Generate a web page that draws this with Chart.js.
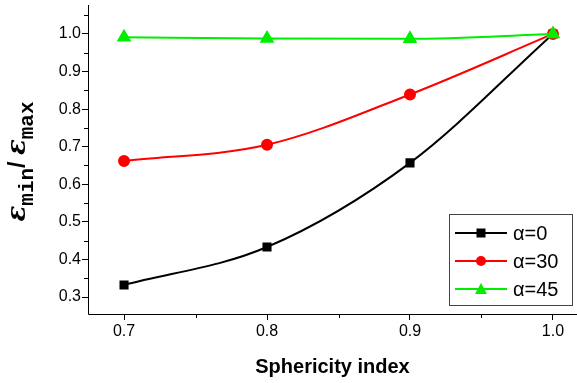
<!DOCTYPE html>
<html><head><meta charset="utf-8">
<script src="https://cdn.jsdelivr.net/npm/chart.js@4/dist/chart.umd.min.js"></script>
<style>html,body{margin:0;padding:0;background:#fff}#wrap{width:577px;height:383px}</style>
</head><body><div id="wrap"><canvas id="c"></canvas></div>
<script>
const sphericity = [0.7, 0.8, 0.9, 1.0];
const alpha0 = [0.332, 0.433, 0.657, 1.0];
const alpha30 = [0.662, 0.705, 0.839, 1.0];
const alpha45 = [0.991, 0.988, 0.987, 1.0];
const seriesLabels = ['α=0', 'α=30', 'α=45'];
const xTicks = [0.7, 0.8, 0.9, 1.0];
const yTicks = [0.3, 0.4, 0.5, 0.6, 0.7, 0.8, 0.9, 1.0];

const mk = (vals) => sphericity.map((x, i) => ({x, y: vals[i]}));

const minorTicks = {
  id: 'minorTicks',
  afterDraw(chart) {
    const ctx = chart.ctx, xs = chart.scales.x, ys = chart.scales.y;
    ctx.save();
    ctx.strokeStyle = '#000'; ctx.lineWidth = 1;
    const bottom = chart.chartArea.bottom, left = chart.chartArea.left;
    ctx.beginPath();
    ctx.moveTo(left + 0.5, chart.chartArea.top); ctx.lineTo(left + 0.5, bottom + 0.5);
    ctx.lineTo(chart.chartArea.right, bottom + 0.5);
    ctx.stroke();
    for (let v = 0.65; v < 1.02; v += 0.1) {
      const p = Math.round(xs.getPixelForValue(v)) + 0.5;
      if (p < left || p > chart.chartArea.right) continue;
      ctx.beginPath(); ctx.moveTo(p, bottom); ctx.lineTo(p, bottom + 4); ctx.stroke();
    }
    for (let v = 0.25; v < 1.1; v += 0.1) {
      const p = Math.round(ys.getPixelForValue(v)) + 0.5;
      if (p < chart.chartArea.top || p > bottom) continue;
      ctx.beginPath(); ctx.moveTo(left, p); ctx.lineTo(left - 4, p); ctx.stroke();
    }
    ctx.restore();
  }
};

const yTitle = {
  id: 'yTitle',
  afterDraw(chart) {
    const ctx = chart.ctx;
    const cy = (chart.chartArea.top + chart.chartArea.bottom) / 2;
    ctx.save();
    ctx.translate(25, cy + 2);
    ctx.rotate(-Math.PI / 2);
    ctx.fillStyle = '#000';
    ctx.textBaseline = 'alphabetic';
    const parts = [
      ['bold italic 26px "DejaVu Serif"', 'ε', 0],
      ['bold 21px "Liberation Mono"', 'min', 8],
      ['bold 23px "Liberation Sans"', '/ ', 0],
      ['bold italic 26px "DejaVu Serif"', 'ε', 0],
      ['bold 21px "Liberation Mono"', 'max', 8]
    ];
    let w = 0;
    parts.forEach(p => { ctx.font = p[0]; w += ctx.measureText(p[1]).width; });
    let x = -w / 2;
    parts.forEach(p => { ctx.font = p[0]; ctx.fillText(p[1], x, p[2]); x += ctx.measureText(p[1]).width; });
    ctx.restore();
  }
};

const boxLegend = {
  id: 'boxLegend',
  afterDraw(chart) {
    const ctx = chart.ctx;
    const x0 = 449, y0 = 214, w = 123, h = 91;
    ctx.save();
    ctx.fillStyle = '#fff';
    ctx.fillRect(x0, y0, w, h);
    ctx.strokeStyle = '#444'; ctx.lineWidth = 1;
    ctx.strokeRect(x0 + 0.5, y0 + 0.5, w, h);
    seriesLabels.forEach((lab, i) => {
      const ds = chart.data.datasets.find(d => d.label === lab);
      const y = y0 + 19 + i * 28;
      ctx.strokeStyle = ds.borderColor; ctx.lineWidth = 2;
      ctx.beginPath(); ctx.moveTo(x0 + 6, y); ctx.lineTo(x0 + 58, y); ctx.stroke();
      ctx.fillStyle = ds.backgroundColor;
      const cx = x0 + 32;
      if (ds.pointStyle === 'rect') ctx.fillRect(cx - 4.5, y - 4.5, 9, 9);
      else if (ds.pointStyle === 'circle') { ctx.beginPath(); ctx.arc(cx, y, 5, 0, Math.PI * 2); ctx.fill(); }
      else { ctx.beginPath(); ctx.moveTo(cx, y - 6); ctx.lineTo(cx + 6, y + 5); ctx.lineTo(cx - 6, y + 5); ctx.closePath(); ctx.fill(); }
      ctx.fillStyle = '#000';
      ctx.font = '20px "Liberation Sans"';
      ctx.textBaseline = 'middle';
      ctx.fillText(ds.label, x0 + 64, y + 1);
    });
    ctx.restore();
  }
};

Chart.defaults.font.family = '"Liberation Sans", Arial, sans-serif';
Chart.defaults.color = '#000';

new Chart(document.getElementById('c'), {
  type: 'line',
  data: {
    datasets: [
      {label: seriesLabels[2], data: mk(alpha45), borderColor: '#00ee00', backgroundColor: '#00ee00', pointStyle: 'triangle', pointRadius: 6.5, borderWidth: 2, cubicInterpolationMode: 'monotone', clip: false},
      {label: seriesLabels[1], data: mk(alpha30), borderColor: '#ff0000', backgroundColor: '#ff0000', pointStyle: 'circle', pointRadius: 5, borderWidth: 2, cubicInterpolationMode: 'monotone', clip: false},
      {label: seriesLabels[0], data: mk(alpha0), borderColor: '#000', backgroundColor: '#000', pointStyle: 'rect', pointRadius: 5, borderWidth: 2, cubicInterpolationMode: 'monotone', clip: false}
    ]
  },
  options: {
    responsive: true, maintainAspectRatio: false, animation: false,
    layout: {autoPadding: false, padding: {top: 5, right: 0, left: 0, bottom: 0}},
    plugins: {legend: {display: false}, tooltip: {enabled: false}},
    scales: {
      x: {
        type: 'linear', min: 0.6748, max: 1.0168,
        afterBuildTicks: s => { s.ticks = xTicks.map(v => ({value: v})); },
        afterFit: s => { s.height = 69; s.paddingRight = 0; s.paddingLeft = 0; },
        border: {display: false},
        grid: {display: true, drawOnChartArea: false, drawTicks: true, tickLength: 6, color: '#000'},
        ticks: {font: {size: 16}, padding: 2, callback: v => v.toFixed(1), maxRotation: 0},
        title: {display: true, text: 'Sphericity index', font: {size: 20, weight: 'bold'}, padding: {top: 10}}
      },
      y: {
        type: 'linear', min: 0.2548, max: 1.077,
        afterBuildTicks: s => { s.ticks = yTicks.map(v => ({value: v})); },
        afterFit: s => { s.width = 88; s.paddingTop = 0; s.paddingBottom = 0; },
        border: {display: false},
        grid: {display: true, drawOnChartArea: false, drawTicks: true, tickLength: 6, color: '#000'},
        ticks: {font: {size: 16}, padding: 1, callback: v => v.toFixed(1)}
      }
    }
  },
  plugins: [minorTicks, yTitle, boxLegend]
});
</script></body></html>
